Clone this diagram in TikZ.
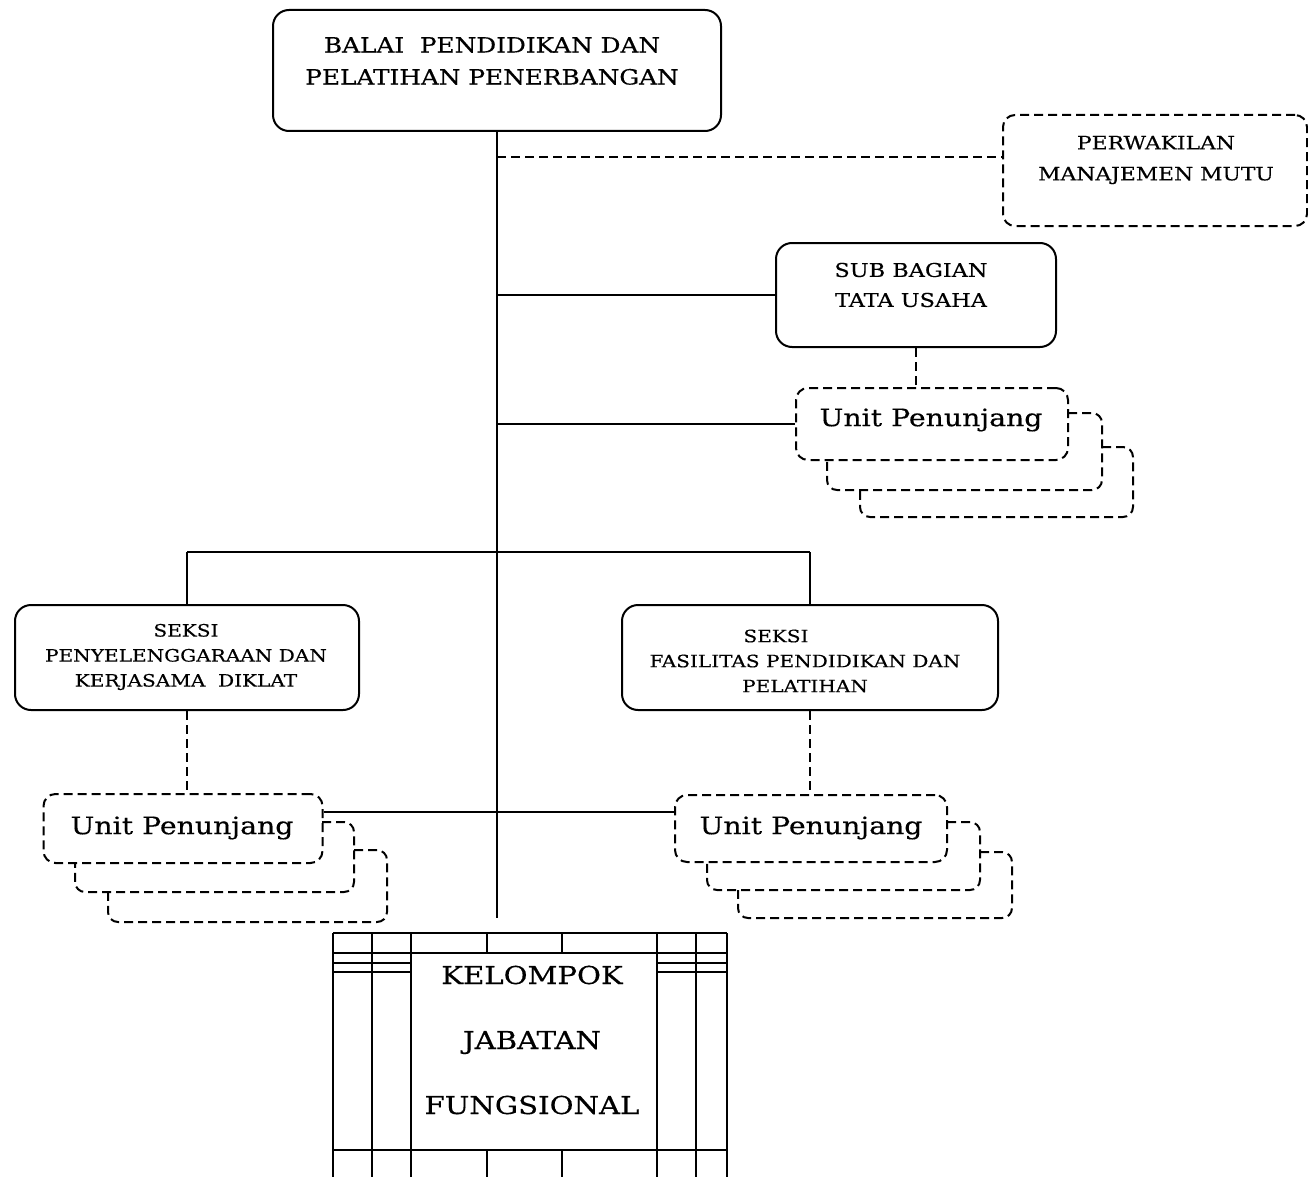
\documentclass[tikz,border=0pt]{standalone}
\usepackage{fontspec}
\newfontfamily\sch[FakeStretch=1.18,FakeBold=0.4]{DejaVu Serif}
\begin{document}
\begin{tikzpicture}[x=1pt,y=-1pt,line width=2pt,
  solidbox/.style={draw,rounded corners=16pt,inner sep=0pt},
  dashbox/.style={draw,rounded corners=12pt,dash pattern=on 9pt off 5pt,inner sep=0pt},
  dashline/.style={dash pattern=on 9pt off 5pt},
  backbox/.style={dash pattern=on 9pt off 5pt,rounded corners=10pt},
  txt/.style={align=center,inner sep=0pt},
  gridline/.style={line width=2pt},
]
\useasboundingbox (0,0) rectangle (1308,1177);

% boxes
\node[solidbox,minimum width=448pt,minimum height=121pt] (top) at (497,70.5) {};
\node[dashbox,minimum width=304pt,minimum height=111pt] (pmm) at (1155,170.5) {};
\node[solidbox,minimum width=280pt,minimum height=104pt] (sub) at (916,295) {};
\node[dashbox,minimum width=272pt,minimum height=72pt] (u1) at (932,424) {};
\node[solidbox,minimum width=344pt,minimum height=105pt] (s1) at (187,657.5) {};
\node[solidbox,minimum width=376pt,minimum height=105pt] (s2) at (810,657.5) {};
\node[dashbox,minimum width=279pt,minimum height=69pt] (u2) at (183,828.5) {};
\node[dashbox,minimum width=272pt,minimum height=67pt] (u3) at (811,828.5) {};
\node[draw,rectangle,minimum width=246pt,minimum height=197pt,inner sep=0pt] (kjf) at (534,1051.5) {};

% texts
\node[txt,font=\fontsize{21}{32}\selectfont\sch] (topt) at (492,61) {BALAI\ \ PENDIDIKAN DAN\\PELATIHAN PENERBANGAN};
\node[txt,font=\fontsize{18.5}{31}\selectfont\sch] (pmmt) at (1156,160) {PERWAKILAN\\MANAJEMEN MUTU};
\node[txt,font=\fontsize{19}{30}\selectfont\sch] (subt) at (911,285) {SUB BAGIAN\\TATA USAHA};
\node[txt,font=\fontsize{17}{25}\selectfont\sch] (s1t) at (186,657) {SEKSI\\PENYELENGGARAAN DAN\\KERJASAMA\ \ DIKLAT};
\node[txt,font=\fontsize{17}{25}\selectfont\sch] (s2t) at (805,661) {SEKSI\hspace*{58pt}\\FASILITAS PENDIDIKAN DAN\\PELATIHAN};
\node[txt,font=\fontsize{24}{30}\selectfont\sch] (u1t) at (931,420) {Unit Penunjang};
\node[txt,font=\fontsize{24}{30}\selectfont\sch] (u2t) at (182,828) {Unit Penunjang};
\node[txt,font=\fontsize{24}{30}\selectfont\sch] (u3t) at (811,828) {Unit Penunjang};
\node[txt,font=\fontsize{24.7}{65}\selectfont\sch] (kjft) at (532,1040) {KELOMPOK\\JABATAN\\FUNGSIONAL};

% stacked back boxes
\draw[backbox] (1068,413) -- (1102,413) -- (1102,490) -- (827,490) -- (827,460);
\draw[backbox] (1102,447) -- (1133,447) -- (1133,517) -- (860,517) -- (860,490);
\draw[backbox] (322,822) -- (354,822) -- (354,892) -- (75,892) -- (75,863);
\draw[backbox] (354,850) -- (387,850) -- (387,922) -- (108,922) -- (108,892);
\draw[backbox] (947,822) -- (980,822) -- (980,890) -- (707,890) -- (707,862);
\draw[backbox] (980,852) -- (1012,852) -- (1012,918) -- (738,918) -- (738,890);

% junctions on the main line
\coordinate (mainend) at (497,918);
\coordinate (j1) at (497,157);
\coordinate (j2) at (497,295);
\coordinate (j3) at (497,424);
\coordinate (j4) at (497,552);
\coordinate (j5) at (497,812);

% connectors
\draw (top.south) -- (mainend);
\draw[dashline] (j1) -- (pmm.west |- j1);
\draw (j2) -- (sub.west);
\draw[dashline] (sub.south) -- (sub.south |- u1.north);
\draw (j3) -- (u1.west);
\draw (s1.north |- j4) -- (s2.north |- j4);
\draw (s1.north |- j4) -- (s1.north);
\draw (s2.north |- j4) -- (s2.north);
\draw[dashline] (s1.south) -- (s1.south |- u2.north);
\draw[dashline] (s2.south) -- (s2.south |- u3.north);
\draw (u2.east |- j5) -- (u3.west |- j5);

% grid of the functional group box
\draw[gridline] (333,933) -- (727,933);
\draw[gridline] (333,953) -- (727,953);
\draw[gridline] (333,963) -- (411,963) (657,963) -- (727,963);
\draw[gridline] (333,972) -- (411,972) (657,972) -- (727,972);
\draw[gridline] (333,1150) -- (727,1150);
\foreach \xx in {333,372,411,657,696,727} \draw[gridline] (\xx,933) -- (\xx,1177);
\foreach \xx in {487,562} \draw[gridline] (\xx,933) -- (\xx,953) (\xx,1150) -- (\xx,1177);
\end{tikzpicture}
\end{document}
